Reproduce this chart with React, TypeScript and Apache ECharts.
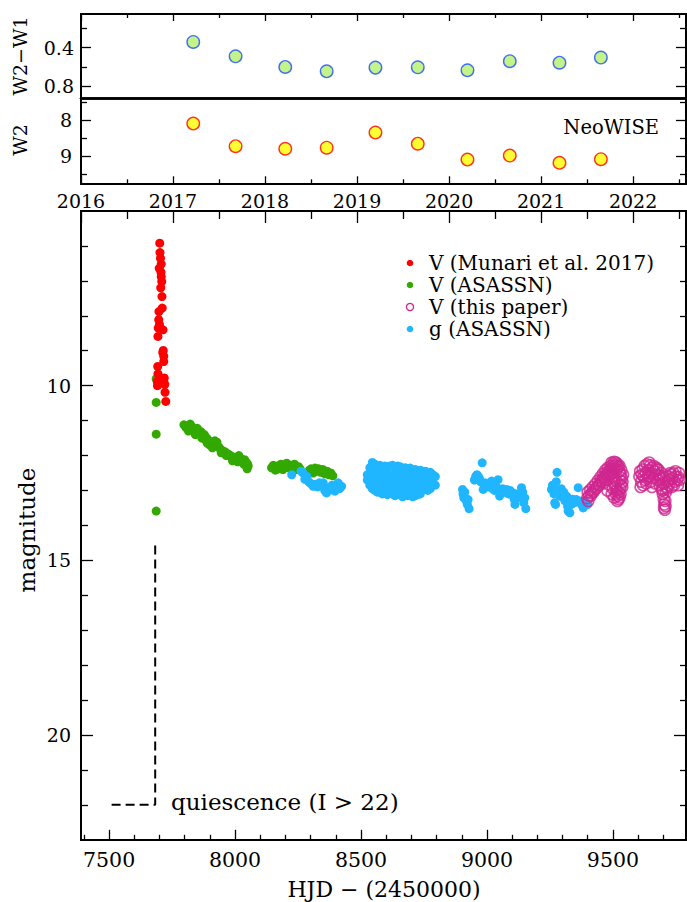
import React, { useEffect, useRef } from "react";
import * as echarts from "echarts";

// ---------- NeoWISE panels ----------
const wiseYears = [2017.22, 2017.68, 2018.22, 2018.67, 2019.2, 2019.66, 2020.2, 2020.66, 2021.2, 2021.65];
const w2w1Values = [0.34, 0.49, 0.6, 0.645, 0.607, 0.604, 0.635, 0.54, 0.556, 0.503];
const w2Values = [8.09, 8.72, 8.79, 8.76, 8.34, 8.65, 9.09, 8.98, 9.18, 9.08];

// ---------- tick values ----------
const yearTicks = [2016, 2017, 2018, 2019, 2020, 2021, 2022];
const halfYearTicks = [2016.5, 2017.5, 2018.5, 2019.5, 2020.5, 2021.5, 2022.5];
const hjdTicks = [7500, 8000, 8500, 9000, 9500];
const hjdMinorTicks = [7400, 7600, 7700, 7800, 7900, 8100, 8200, 8300, 8400, 8600, 8700, 8800, 8900, 9100, 9200, 9300, 9400, 9600, 9700];
const magTicks = [10, 15, 20];
const magMinorTicks = [6, 7, 8, 9, 11, 12, 13, 14, 16, 17, 18, 19, 21, 22];
const colorTicks = [0.4, 0.8];
const colorMinorTicks = [0.2, 0.6];
const w2Ticks = [8, 9];
const w2MinorTicks = [7.5, 8.5, 9.5];

// ---------- light curve data [HJD-2450000, mag] ----------
const munariV = [
  [7701, 5.92], [7702, 6.19], [7704, 6.35], [7707, 6.52], [7699, 6.64], [7706, 6.75], [7707, 6.88],
  [7709, 7.02], [7705, 7.2], [7710, 7.45], [7711, 7.78], [7698, 7.88], [7697, 8.11], [7700, 8.25],
  [7695, 8.35], [7714, 8.4], [7694, 8.59], [7715, 8.99], [7713, 9.05], [7717, 9.16], [7717, 9.31],
  [7693, 9.45], [7694, 9.66], [7719, 9.78], [7691, 9.88], [7718, 9.9], [7721, 9.97], [7692, 10.0],
  [7722, 10.19], [7725, 10.45],
];

const asassnV = [
  [7687, 9.8], [7687, 10.48], [7687, 11.39], [7687, 13.59],
  [7797, 11.12], [7805, 11.2], [7812, 11.15], [7815, 11.3], [7822, 11.1], [7830, 11.18], [7838, 11.25],
  [7842, 11.4], [7845, 11.3], [7850, 11.22], [7858, 11.35], [7865, 11.32], [7868, 11.5], [7872, 11.45],
  [7878, 11.4], [7882, 11.55], [7888, 11.5], [7890, 11.65], [7895, 11.62], [7900, 11.7], [7905, 11.6],
  [7910, 11.78], [7912, 11.68], [7920, 11.58], [7925, 11.72], [7928, 11.62], [7935, 11.75], [7940, 11.8],
  [7945, 11.92], [7948, 11.85], [7955, 11.88], [7962, 11.9], [7965, 12.0], [7970, 11.95], [7978, 11.98],
  [7985, 12.02], [7990, 12.15], [7992, 12.08], [8000, 12.05], [8008, 12.1], [8010, 12.18], [8015, 12.0],
  [8022, 12.08], [8030, 12.15], [8035, 12.25], [8038, 12.12], [8045, 12.2], [8050, 12.25], [8052, 12.3],
  [8048, 12.38],
  [8145, 12.35], [8152, 12.28], [8160, 12.42], [8168, 12.3], [8175, 12.38], [8182, 12.25], [8190, 12.4],
  [8198, 12.3], [8205, 12.22], [8212, 12.35], [8220, 12.28], [8228, 12.32], [8236, 12.25], [8244, 12.4],
  [8252, 12.32], [8258, 12.38],
  [8295, 12.42], [8302, 12.38], [8310, 12.5], [8318, 12.36], [8325, 12.45], [8332, 12.38], [8340, 12.48],
  [8348, 12.4], [8356, 12.52], [8365, 12.45], [8372, 12.55], [8380, 12.5], [8388, 12.58],
];

const asassnG = [
  [8225, 12.55], [8262, 12.45], [8270, 12.5], [8277, 12.68], [8285, 12.6], [8292, 12.75], [8300, 12.8],
  [8310, 12.88], [8318, 12.82], [8328, 12.9], [8335, 12.78], [8342, 12.85], [8350, 12.78], [8356, 13.0],
  [8363, 13.07], [8370, 12.92], [8376, 12.97], [8385, 12.85], [8396, 13.02], [8403, 12.9], [8409, 12.78],
  [8415, 12.95], [8423, 12.88],
  [8525, 12.55], [8525, 12.7], [8535, 12.35], [8535, 12.6], [8535, 12.85],
  [8545, 12.2], [8545, 12.45], [8545, 12.7], [8545, 12.95],
  [8555, 12.25], [8555, 12.5], [8555, 12.75], [8555, 13.0],
  [8565, 12.3], [8565, 12.55], [8565, 12.8], [8565, 13.05],
  [8575, 12.28], [8575, 12.52], [8575, 12.78], [8575, 13.02],
  [8585, 12.32], [8585, 12.6], [8585, 12.85], [8585, 13.1],
  [8595, 12.3], [8595, 12.55], [8595, 12.8], [8595, 13.05],
  [8605, 12.35], [8605, 12.6], [8605, 12.88], [8605, 13.12],
  [8615, 12.3], [8615, 12.58], [8615, 12.82], [8615, 13.08],
  [8625, 12.28], [8625, 12.55], [8625, 12.8], [8625, 13.1],
  [8635, 12.35], [8635, 12.62], [8635, 12.9], [8635, 13.15],
  [8645, 12.3], [8645, 12.55], [8645, 12.8], [8645, 13.05],
  [8655, 12.32], [8655, 12.6], [8655, 12.85], [8655, 13.12],
  [8665, 12.38], [8665, 12.65], [8665, 12.9], [8665, 13.18],
  [8675, 12.35], [8675, 12.6], [8675, 12.85], [8675, 13.1],
  [8685, 12.4], [8685, 12.65], [8685, 12.92], [8685, 13.15],
  [8695, 12.36], [8695, 12.62], [8695, 12.88], [8695, 13.12],
  [8705, 12.42], [8705, 12.68], [8705, 12.95], [8705, 13.18],
  [8715, 12.4], [8715, 12.65], [8715, 12.9], [8715, 13.15],
  [8725, 12.45], [8725, 12.7], [8725, 12.95], [8725, 13.12],
  [8735, 12.42], [8735, 12.68], [8735, 12.92], [8735, 13.1],
  [8745, 12.48], [8745, 12.72], [8745, 12.98],
  [8755, 12.45], [8755, 12.7], [8755, 12.95],
  [8765, 12.5], [8765, 12.75], [8765, 13.0],
  [8775, 12.48], [8775, 12.72], [8775, 12.95],
  [8785, 12.55], [8785, 12.8], [8795, 12.6], [8795, 12.85],
  [8903, 12.97], [8905, 13.1], [8908, 13.21], [8912, 13.05], [8918, 13.3], [8925, 13.26], [8929, 13.52],
  [8922, 13.4], [8950, 12.7], [8955, 12.6], [8960, 12.55], [8965, 12.59], [8970, 12.65], [8975, 12.75],
  [8981, 12.21], [8985, 12.97], [8990, 12.85], [8992, 12.78], [9000, 12.8], [9005, 12.9], [9010, 12.85],
  [9018, 12.73], [9022, 12.95], [9030, 13.0], [9036, 12.88], [9044, 12.69], [9050, 13.16], [9055, 13.0],
  [9062, 12.95], [9070, 13.05], [9078, 12.97], [9085, 13.1], [9092, 13.0], [9098, 13.12], [9104, 13.07],
  [9108, 13.25], [9111, 13.4], [9120, 13.1], [9128, 13.2], [9137, 12.92], [9142, 13.05], [9150, 13.21],
  [9154, 13.52], [9146, 13.35],
  [9256, 12.97], [9260, 12.85], [9263, 12.88], [9266, 13.1], [9269, 13.35], [9272, 13.4], [9275, 12.75],
  [9278, 12.48], [9282, 13.0], [9288, 13.15], [9295, 12.95], [9300, 13.2], [9305, 13.05], [9310, 13.3],
  [9316, 13.16], [9320, 13.45], [9322, 13.59], [9329, 13.64], [9335, 13.4], [9340, 13.25], [9348, 13.35],
  [9355, 13.26], [9362, 12.92], [9368, 13.3], [9375, 13.4], [9382, 13.5], [9388, 13.3], [9395, 13.35],
  [9400, 13.4],
];

const thisPaperV = [
  [9398, 13.22], [9400, 13.05], [9405, 13.15], [9410, 12.98], [9415, 13.08], [9420, 12.9], [9425, 13.0],
  [9430, 12.82], [9435, 12.92], [9440, 12.72], [9445, 12.85], [9450, 12.62], [9455, 12.75], [9460, 12.52],
  [9465, 12.65], [9470, 12.42], [9475, 12.55], [9480, 12.35], [9485, 12.48], [9490, 12.3], [9495, 12.42],
  [9500, 12.25], [9505, 12.38], [9510, 12.28], [9515, 12.4], [9520, 12.32], [9525, 12.45], [9530, 12.55],
  [9535, 12.65], [9538, 12.75], [9532, 12.85], [9528, 12.95], [9524, 13.05], [9520, 13.15], [9522, 13.25],
  [9515, 13.0], [9510, 12.9], [9505, 12.8], [9498, 12.6], [9490, 12.55],
  [9402, 13.3], [9412, 13.15], [9422, 13.05], [9432, 12.95], [9442, 12.85], [9452, 12.72], [9462, 12.62],
  [9472, 12.52], [9482, 12.45], [9492, 12.38], [9502, 12.32], [9512, 12.2], [9505, 12.18], [9495, 12.2],
  [9518, 12.25], [9526, 12.3], [9533, 12.42], [9540, 12.55], [9537, 12.9], [9530, 13.1], [9526, 13.2],
  [9518, 13.3], [9512, 13.1], [9500, 12.95], [9508, 12.7], [9517, 12.75], [9527, 12.7], [9480, 12.6],
  [9470, 12.7], [9460, 12.8], [9488, 12.85], [9478, 13.0], [9495, 13.1], [9505, 13.2],
  [9605, 12.6], [9608, 12.45], [9612, 12.75], [9618, 12.4], [9622, 12.6], [9626, 12.3], [9630, 12.5],
  [9635, 12.25], [9640, 12.42], [9645, 12.6], [9648, 12.28], [9652, 12.5], [9656, 12.35], [9660, 12.65],
  [9665, 12.45], [9670, 12.55], [9675, 12.4], [9678, 12.7], [9682, 12.55], [9686, 12.85], [9690, 12.65],
  [9694, 12.95], [9698, 13.1], [9700, 12.8], [9702, 13.25], [9704, 13.4], [9706, 13.55], [9708, 13.3],
  [9710, 13.05], [9712, 12.9], [9716, 12.75], [9720, 12.6], [9725, 12.7], [9730, 12.55], [9735, 12.65],
  [9740, 12.5], [9745, 12.75], [9750, 12.6], [9755, 12.7], [9760, 12.62], [9628, 12.7],
  [9610, 12.9], [9615, 12.55], [9620, 12.85], [9632, 12.8], [9638, 12.6], [9644, 12.2], [9650, 12.75],
  [9655, 12.9], [9662, 12.3], [9668, 12.8], [9672, 12.35], [9680, 12.4], [9685, 12.6], [9692, 12.5],
  [9700, 12.6], [9715, 12.95], [9722, 12.85], [9728, 12.5], [9733, 12.9], [9742, 12.85], [9748, 12.45],
  [9758, 12.85], [9762, 12.5], [9765, 12.7], [9703, 13.5], [9709, 13.45], [9696, 13.0],
];

const quiescenceLine = [[7510, 22], [7683, 22], [7683, 14.5]];

// ---------- styling ----------
const FONT = "'DejaVu Serif', serif";
const RED = "#ff0000";
const GREEN = "#33a900";
const BLUE = "#20b6ff";
const MAGENTA = "#d0258f";

const YEAR_MIN = 2016;
const YEAR_MAX = 2022.575;
const HJD_MIN = 7388.5;
const HJD_MAX = 9790;

type AxOpts = {
  inverse?: boolean;
  labels?: number[];
  margin?: number;
  fontSize?: number;
  lineWidth?: number;
};

function axis(gridIndex: number, position: string, min: number, max: number, ticks: number[], len: number, o: AxOpts = {}) {
  return {
    type: "value",
    gridIndex,
    position,
    min,
    max,
    inverse: !!o.inverse,
    axisLine: { show: true, onZero: false, lineStyle: { color: "#000", width: o.lineWidth ?? 2 } },
    axisTick: ticks.length
      ? { show: true, inside: true, length: len, customValues: ticks, lineStyle: { color: "#000", width: 1.3 } }
      : { show: false },
    minorTick: { show: false },
    splitLine: { show: false },
    axisLabel: o.labels
      ? {
          show: true,
          customValues: o.labels,
          margin: o.margin ?? 8,
          fontSize: o.fontSize ?? 19,
          fontFamily: FONT,
          color: "#000",
          formatter: (v: number) => String(v),
        }
      : { show: false },
  };
}

export default function App() {
  const ref = useRef<HTMLDivElement>(null);

  useEffect(() => {
    if (!ref.current) return;
    const chart = echarts.init(ref.current, null, { renderer: "svg" });

    const grids = [
      { left: 81, width: 605, top: 14, height: 84.7, outerBoundsMode: "none" },
      { left: 81, width: 605, top: 98.7, height: 84.6, outerBoundsMode: "none" },
      { left: 81, width: 605, top: 211, height: 628.8, outerBoundsMode: "none" },
    ];

    const xAxis = [
      // grid 0
      axis(0, "bottom", YEAR_MIN, YEAR_MAX, [], 0, { lineWidth: 2.5 }), // 0 series
      axis(0, "top", YEAR_MIN, YEAR_MAX, yearTicks, 7), // 1
      axis(0, "top", YEAR_MIN, YEAR_MAX, halfYearTicks, 4), // 2
      // grid 1
      axis(1, "bottom", YEAR_MIN, YEAR_MAX, yearTicks, 7, { labels: yearTicks, margin: 8, fontSize: 19 }), // 3 series
      axis(1, "bottom", YEAR_MIN, YEAR_MAX, halfYearTicks, 4), // 4
      axis(1, "top", YEAR_MIN, YEAR_MAX, [], 0, { lineWidth: 2.5 }), // 5
      // grid 2
      axis(2, "bottom", HJD_MIN, HJD_MAX, hjdTicks, 10, { labels: hjdTicks, margin: 10, fontSize: 20.5 }), // 6 series
      axis(2, "bottom", HJD_MIN, HJD_MAX, hjdMinorTicks, 5), // 7
      axis(2, "top", YEAR_MIN, YEAR_MAX, yearTicks, 12), // 8
      axis(2, "top", YEAR_MIN, YEAR_MAX, halfYearTicks, 8), // 9
    ];

    const yAxis = [
      // grid 0 : W2-W1
      axis(0, "left", 0.05, 0.93, colorTicks, 10, { inverse: true, labels: colorTicks, margin: 7 }), // 0 series
      axis(0, "left", 0.05, 0.93, colorMinorTicks, 6, { inverse: true }),
      axis(0, "right", 0.05, 0.93, colorTicks, 10, { inverse: true }),
      axis(0, "right", 0.05, 0.93, colorMinorTicks, 6, { inverse: true }),
      // grid 1 : W2
      axis(1, "left", 7.4, 9.75, w2Ticks, 10, { inverse: true, labels: w2Ticks, margin: 9 }), // 4 series
      axis(1, "left", 7.4, 9.75, w2MinorTicks, 6, { inverse: true }),
      axis(1, "right", 7.4, 9.75, w2Ticks, 10, { inverse: true }),
      axis(1, "right", 7.4, 9.75, w2MinorTicks, 6, { inverse: true }),
      // grid 2 : magnitude
      axis(2, "left", 5, 23, magTicks, 12, { inverse: true, labels: magTicks, margin: 10 }), // 8 series
      axis(2, "left", 5, 23, magMinorTicks, 7, { inverse: true }),
      axis(2, "right", 5, 23, magTicks, 12, { inverse: true }),
      axis(2, "right", 5, 23, magMinorTicks, 6, { inverse: true }),
    ];

    const dot = (data: number[][], color: string) => ({
      type: "scatter",
      xAxisIndex: 6,
      yAxisIndex: 8,
      data,
      symbol: "circle",
      symbolSize: 9,
      itemStyle: { color, opacity: 1 },
      silent: true,
    });

    const legendRows = [
      { label: "V (Munari et al. 2017)", color: RED, open: false },
      { label: "V (ASASSN)", color: GREEN, open: false },
      { label: "V (this paper)", color: MAGENTA, open: true },
      { label: "g (ASASSN)", color: BLUE, open: false },
    ];

    const graphic: any[] = [];
    legendRows.forEach((r, i) => {
      const cy = 263 + i * 22;
      graphic.push({
        type: "circle",
        shape: { cx: 410, cy, r: r.open ? 3.6 : 3.3 },
        style: r.open ? { fill: "none", stroke: r.color, lineWidth: 1.3 } : { fill: r.color },
      });
      graphic.push({
        type: "text",
        x: 429,
        y: cy,
        style: { text: r.label, fontSize: 20, fontFamily: FONT, fill: "#000", textAlign: "left", textVerticalAlign: "middle" },
      });
    });

    const txt = (text: string, x: number, y: number, size: number, align = "center", rot = 0) => ({
      type: "text",
      x,
      y,
      rotation: rot,
      style: { text, fontSize: size, fontFamily: FONT, fill: "#000", textAlign: align, textVerticalAlign: "middle" },
    });

    graphic.push(txt("W2\u2212W1", 20, 56, 19, "center", Math.PI / 2));
    graphic.push(txt("W2", 20, 140, 19, "center", Math.PI / 2));
    graphic.push(txt("NeoWISE", 659, 127, 19.5, "right"));
    graphic.push(txt("magnitude", 27, 530, 23, "center", Math.PI / 2));
    graphic.push(txt("HJD \u2212 (2450000)", 384, 889, 22, "center"));
    graphic.push(txt("quiescence (I > 22)", 171, 802, 23, "left"));

    chart.setOption({
      animation: false,
      backgroundColor: "#fff",
      grid: grids,
      xAxis,
      yAxis,
      series: [
        {
          type: "scatter",
          xAxisIndex: 0,
          yAxisIndex: 0,
          data: wiseYears.map((y, i) => [y, w2w1Values[i]]),
          symbol: "circle",
          symbolSize: 12.5,
          itemStyle: { color: "#b4f06c", borderColor: "#1a4cff", borderWidth: 1.4 },
        },
        {
          type: "scatter",
          xAxisIndex: 3,
          yAxisIndex: 4,
          data: wiseYears.map((y, i) => [y, w2Values[i]]),
          symbol: "circle",
          symbolSize: 12.5,
          itemStyle: { color: "#ffff00", borderColor: "#ff0000", borderWidth: 1.4 },
        },
        {
          type: "line",
          xAxisIndex: 6,
          yAxisIndex: 8,
          data: quiescenceLine,
          symbol: "none",
          lineStyle: { color: "#000", width: 2, type: [9, 5] },
          silent: true,
        },
        dot(asassnV, GREEN),
        dot(asassnG, BLUE),
        dot(munariV, RED),
        {
          type: "scatter",
          xAxisIndex: 6,
          yAxisIndex: 8,
          data: thisPaperV,
          symbol: "circle",
          symbolSize: 11,
          itemStyle: { color: "rgba(0,0,0,0)", borderColor: MAGENTA, borderWidth: 1.6 },
          silent: true,
        },
      ],
      graphic,
    });

    return () => chart.dispose();
  }, []);

  return <div ref={ref} style={{ position: "absolute", left: 0, top: 0, width: 687, height: 902, background: "#fff" }} />;
}
